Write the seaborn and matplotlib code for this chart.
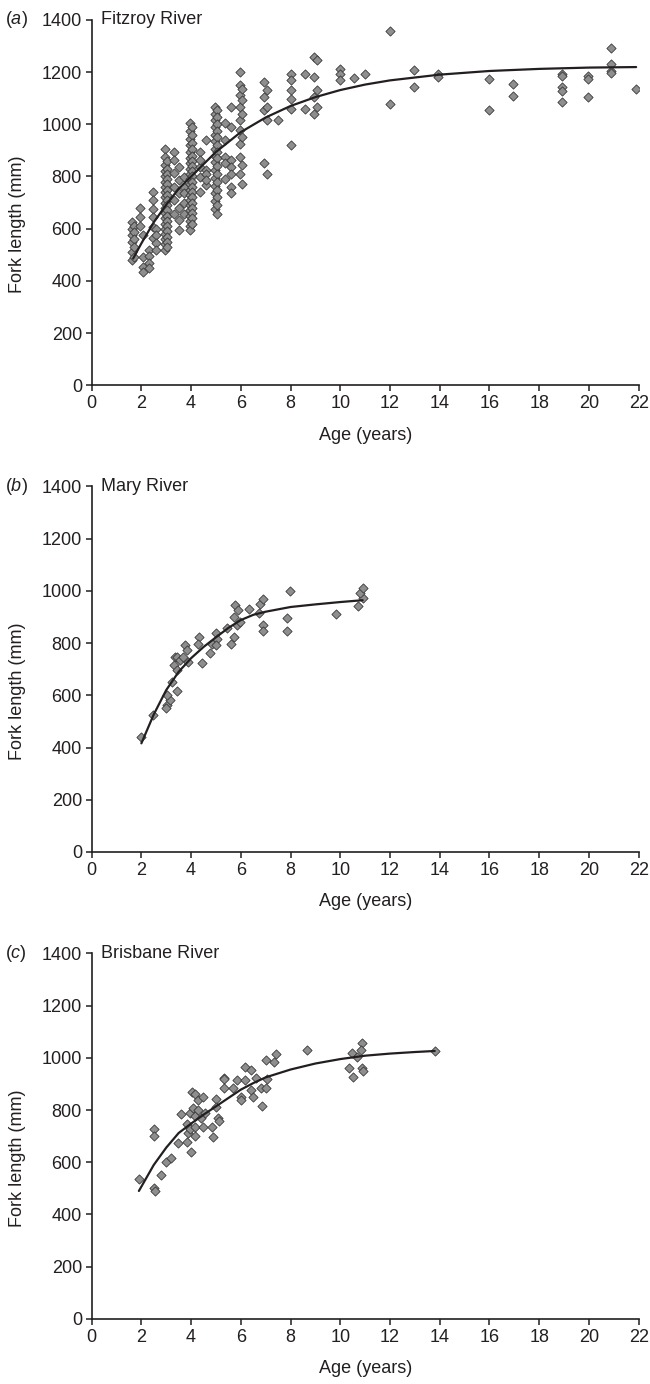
import pandas as pd
import matplotlib
matplotlib.use('Agg')
import matplotlib.pyplot as plt
import matplotlib.transforms as mtransforms
import seaborn as sns

# Fitzroy River: age groups (years) and fork lengths (mm) read per column
fitz_ages = [1.62, 1.7, 1.95, 2.05, 2.3, 2.45, 2.6, 2.95, 3.05, 3.3, 3.5, 3.7,
             3.95, 4.05, 4.35, 4.6, 4.95, 5.05, 5.35, 5.6, 5.95, 6.05, 6.95,
             7.05, 7.5, 8.0, 8.6, 8.95, 9.05, 10.0, 10.57, 10.98, 12.0, 12.95,
             13.95, 16.0, 16.95, 18.9, 19.95, 20.9, 21.9]
fitz_fl = [
    [626, 600, 575, 549, 511, 479],
    [612, 588, 560, 530, 492],
    [678, 646, 610],
    [575, 492, 455, 435],
    [520, 495, 470, 450],
    [741, 709, 677, 646, 607, 563],
    [600, 575, 545, 520],
    [907, 874, 845, 820, 800, 780, 760, 740, 720, 700, 680, 660, 640, 620, 600, 580, 560, 540, 520],
    [860, 830, 810, 790, 770, 750, 730, 710, 690, 670, 650, 630, 610, 590, 570, 550, 530],
    [895, 862, 812, 760, 709, 658],
    [837, 785, 735, 680, 633, 595],
    [799, 760, 735, 697, 658],
    [1003, 975, 945, 920, 895, 870, 850, 830, 810, 790, 770, 750, 730, 710, 690, 670, 650, 630, 610, 595],
    [990, 960, 930, 905, 880, 860, 840, 820, 800, 780, 760, 740, 720, 700, 680, 660, 640, 620],
    [894, 837, 799, 741, 862],
    [939, 824, 767, 811, 786],
    [1066, 1040, 1015, 990, 960, 935, 905, 880, 855, 825, 795, 765, 735, 705, 675],
    [1053, 1028, 1000, 975, 950, 920, 895, 870, 840, 810, 780, 750, 720, 690, 658],
    [1003, 939, 875, 850, 792],
    [1066, 990, 862, 837, 811, 760, 735],
    [1200, 1149, 1111, 1066, 1016, 977, 926, 875, 811],
    [1136, 1092, 1041, 950, 843, 773],
    [1162, 1105, 1053, 850],
    [1130, 1066, 1016, 811],
    [1016],
    [1194, 1168, 1130, 1098, 1060, 920],
    [1194, 1060],
    [1257, 1181, 1105, 1041],
    [1245, 1130, 1066],
    [1213, 1191, 1171],
    [1176],
    [1193],
    [1356, 1077],
    [1207, 1141],
    [1191, 1181],
    [1172, 1056],
    [1153, 1109],
    [1194, 1184, 1143, 1126, 1087],
    [1184, 1173, 1106],
    [1292, 1232, 1204, 1196],
    [1134],
]
fitz_curve_age = [1.67, 2, 2.5, 3, 3.5, 4, 5, 6, 7, 8, 9, 10, 11, 12, 14, 16, 18, 20, 21.9]
fitz_curve_fl = [486, 544, 625, 692, 753, 800, 894, 970, 1026, 1070, 1104, 1131, 1152, 1168, 1190, 1204, 1212, 1217, 1219]

# Mary River
mary_age = [2.0, 2.48, 3.02, 3.0, 3.15, 3.42, 3.02, 3.22, 3.35, 3.32, 3.42, 3.55, 3.42,
            3.69, 3.75, 3.82, 3.89, 4.33, 4.29, 4.42, 4.76, 4.83, 5.0, 5.03, 5.0, 5.43,
            5.59, 5.73, 5.73, 5.77, 5.9, 5.83, 5.97, 6.34, 6.74, 6.77, 6.9, 6.9, 6.9,
            7.84, 7.84, 7.98, 9.83, 10.73, 10.9, 10.8, 10.93]
mary_fl = [439, 524, 562, 550, 581, 616, 600, 652, 745, 715, 747, 734, 696,
           747, 792, 773, 728, 824, 798, 724, 760, 798, 839, 817, 792, 858,
           796, 824, 900, 947, 926, 868, 881, 932, 915, 951, 970, 868, 847,
           895, 847, 998, 910, 941, 974, 992, 1012]
mary_curve_age = [2.0, 2.5, 3.0, 3.5, 4.0, 4.5, 5.0, 5.5, 6.0, 6.5, 7.0, 8.0, 9.0, 10.0, 10.9]
mary_curve_fl = [416, 527, 620, 690, 742, 785, 822, 858, 888, 908, 920, 938, 948, 957, 964]

# Brisbane River
bris_age = [1.9, 2.5, 2.5, 2.5, 2.55, 2.8, 3.0, 3.2, 3.49, 3.82, 3.59, 3.82, 3.86, 3.95,
            3.95, 4.0, 4.02, 4.09, 4.16, 4.16, 4.16, 4.16, 4.26, 4.29, 4.4, 4.49, 4.49,
            4.56, 4.83, 4.89, 4.99, 4.99, 5.07, 5.12, 5.34, 5.34, 5.34, 5.7, 5.83, 6.0,
            6.0, 6.17, 6.17, 6.41, 6.41, 6.5, 6.6, 6.81, 6.84, 7.0, 7.0, 7.04, 7.33,
            7.41, 8.65, 10.46, 10.86, 10.83, 10.66, 10.36, 10.5, 10.86, 10.93, 13.8]
bris_fl = [535, 729, 700, 500, 490, 550, 600, 615, 674, 678, 784, 748, 713, 787,
           729, 640, 870, 806, 863, 776, 736, 700, 838, 799, 768, 850, 736,
           787, 736, 697, 844, 810, 768, 759, 924, 917, 886, 886, 914, 850,
           838, 914, 965, 952, 878, 850, 924, 886, 815, 991, 886, 917, 984,
           1014, 1029, 1020, 1057, 1029, 1003, 959, 927, 959, 949, 1026]
bris_curve_age = [1.9, 2.5, 3.0, 3.5, 4.0, 4.5, 5.0, 5.5, 6.0, 6.5, 7.0, 8.0, 9.0, 10.0, 11.0, 12.0, 13.0, 13.8]
bris_curve_fl = [490, 590, 656, 712, 748, 782, 814, 846, 878, 903, 925, 955, 978, 995, 1008, 1016, 1022, 1026]

panel_letters = ['a', 'b', 'c']
rivers = ['Fitzroy River', 'Mary River', 'Brisbane River']
x_ticks = list(range(0, 23, 2))
y_ticks = list(range(0, 1401, 200))

INK = '#231f20'
FS = 13

sns.set_style('ticks')
plt.rcParams['font.family'] = ['Liberation Sans', 'DejaVu Sans']
plt.rcParams['mathtext.fontset'] = 'custom'
plt.rcParams['mathtext.it'] = 'Liberation Sans:italic'
plt.rcParams['mathtext.rm'] = 'Liberation Sans'
plt.rcParams['text.color'] = INK
plt.rcParams['axes.labelcolor'] = INK
plt.rcParams['xtick.color'] = INK
plt.rcParams['ytick.color'] = INK


def expand(ages, groups):
    x, y = [], []
    for a, g in zip(ages, groups):
        x += [a] * len(g)
        y += g
    return pd.DataFrame({'age': x, 'fl': y})


points = [
    expand(fitz_ages, fitz_fl),
    pd.DataFrame({'age': mary_age, 'fl': mary_fl}),
    pd.DataFrame({'age': bris_age, 'fl': bris_fl}),
]
curves = [
    pd.DataFrame({'age': fitz_curve_age, 'fl': fitz_curve_fl}),
    pd.DataFrame({'age': mary_curve_age, 'fl': mary_curve_fl}),
    pd.DataFrame({'age': bris_curve_age, 'fl': bris_curve_fl}),
]

fig = plt.figure(figsize=(6.5, 13.84), dpi=100)
bottoms = [0.7215, 0.3844, 0.047]

for i in range(3):
    ax = fig.add_axes([0.141, bottoms[i], 0.8415, 0.2642])
    sns.scatterplot(data=points[i], x='age', y='fl', marker='D', s=22,
                    color='#8e8e8e', edgecolor='#3a3a3a', linewidth=0.6,
                    ax=ax, zorder=2)
    sns.lineplot(data=curves[i], x='age', y='fl', color=INK, lw=1.6,
                 sort=False, ax=ax, zorder=3)
    ax.set_xlim(0, 22)
    ax.set_ylim(0, 1400)
    ax.set_xticks(x_ticks)
    ax.set_yticks(y_ticks)
    ax.tick_params(labelsize=FS, length=4, width=1.1, pad=3)
    sns.despine(ax=ax)
    for sp in ['left', 'bottom']:
        ax.spines[sp].set_linewidth(1.2)
        ax.spines[sp].set_color(INK)
    ax.set_xlabel('Age (years)', fontsize=FS)
    ax.set_ylabel('Fork length (mm)', fontsize=FS)
    ax.xaxis.set_label_coords(0.5, -0.113)
    ax.yaxis.set_label_coords(-0.12, 0.44)
    ax.text(0.36, 1400, rivers[i], fontsize=FS, ha='left', va='center')
    trans = mtransforms.blended_transform_factory(fig.transFigure, ax.transData)
    ax.text(5 / 650, 1400, '($\\mathit{' + panel_letters[i] + '}$)', fontsize=FS,
            ha='left', va='center', transform=trans)

fig.savefig('out.png', dpi=100)
